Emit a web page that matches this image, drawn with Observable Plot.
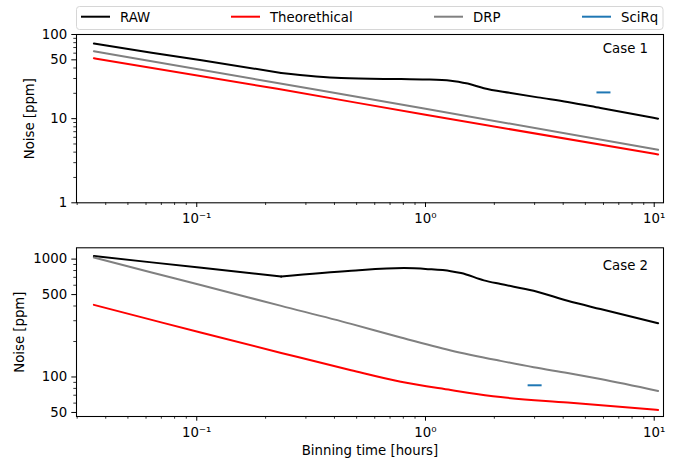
<!DOCTYPE html>
<html>
<head>
<meta charset="utf-8">
<script src="https://cdn.jsdelivr.net/npm/d3@7"></script>
<script src="https://cdn.jsdelivr.net/npm/@observablehq/plot@0.6"></script>
<style>
  html, body { margin: 0; padding: 0; background: #fff; }
  #fig { position: relative; width: 686px; height: 461px; overflow: hidden; font-family: "DejaVu Sans", sans-serif; }
  #fig svg { position: absolute; left: 0; }
</style>
</head>
<body>
<div id="fig"></div>
<script>
// ---------- legend ----------
const seriesNames = ["RAW", "Theorethical", "DRP", "SciRq"];
const seriesColors = ["#000000", "#ff0000", "#808080", "#1f77b4"];

// ---------- Case 1 ----------
const c1RawX  = [0.0355, 0.0635, 0.105, 0.234, 0.428, 0.782, 1.0, 1.29, 1.53, 1.8, 2.36, 3.1, 4.18, 5.82, 10.4];
const c1RawY  = [78, 60.6, 49.5, 34.9, 30.4, 29.5, 29.2, 28.3, 26.1, 23.0, 20.2, 17.9, 15.8, 13.4, 10.0];
const c1TheoX = [0.0355, 0.225, 1.0, 10.4];
const c1TheoY = [52.2, 22.6, 11.1, 3.76];
const c1DrpX  = [0.0355, 0.225, 1.0, 10.4];
const c1DrpY  = [63.3, 26.5, 13.1, 4.27];
const c1SciX  = [6.0];
const c1SciY  = [20.5];

// ---------- Case 2 ----------
const c2RawX  = [0.0355, 0.0635, 0.105, 0.234, 0.473, 0.806, 1.025, 1.29, 1.43, 1.8, 2.13, 2.97, 4.18, 5.82, 10.4];
const c2RawY  = [1060, 938, 844, 711, 796, 839, 822, 790, 762, 660, 614, 538, 443, 377, 286];
const c2TheoX = [0.0355, 0.0635, 0.105, 0.234, 0.473, 0.78, 1.29, 1.53, 2.13, 4.18, 10.4];
const c2TheoY = [409, 305, 237, 160, 114, 91, 77.5, 73.6, 67.5, 60.6, 52.5];
const c2DrpX  = [0.0355, 0.0635, 0.105, 0.234, 0.473, 0.78, 1.29, 2.13, 2.97, 4.18, 5.82, 10.4];
const c2DrpY  = [1030, 770, 599, 401, 282, 216, 168, 137, 121, 108, 96, 76];
const c2SciX  = [3.0];
const c2SciY  = [85];

// ---------- axes ----------
const xDomain = [0.0298, 10.98];
const xMajorTicks = [0.1, 1, 10];
const xTickLabels = ["10\u207B\u00B9", "10\u2070", "10\u00B9"];
const c1YDomain = [1, 100];
const c1YTicks = [1, 10, 50, 100];
const c2YDomain = [46.2, 1247];
const c2YTicks = [50, 100, 500, 1000];
const rawKnee = 0.234; // RAW has a visible corner here

function minorTicks(domain, major) {
  const out = [];
  for (let e = -3; e <= 4; e++) for (let m = 1; m <= 9; m++) {
    const v = +(m * Math.pow(10, e)).toPrecision(6);
    if (v >= domain[0] && v <= domain[1] && !major.some(t => Math.abs(t - v) / v < 1e-9)) out.push(v);
  }
  return out;
}

const rows = (xs, ys) => xs.map((x, i) => ({x, y: ys[i]}));
const dash = { draw(ctx) { ctx.moveTo(-7, 0); ctx.lineTo(7, 0); } };
const FS = 13.3;

function panel(o) {
  const xMinor = minorTicks(xDomain, xMajorTicks);
  const yMinor = minorTicks(o.yDomain, o.yTicks);
  const rawA = o.raw.filter(d => d.x <= rawKnee);
  const rawB = o.raw.filter(d => d.x >= rawKnee);
  return Plot.plot({
    width: 686,
    height: o.height,
    marginLeft: 76,
    marginRight: 23,
    marginTop: o.marginTop,
    marginBottom: o.marginBottom,
    style: {fontFamily: "DejaVu Sans, sans-serif", fontSize: FS + "px", background: "transparent", overflow: "visible", color: "#000"},
    x: {type: "log", domain: xDomain},
    y: {type: "log", domain: o.yDomain},
    marks: [
      Plot.line(rawA, {x: "x", y: "y", stroke: seriesColors[0], strokeWidth: 2, curve: "linear", strokeLinejoin: "round"}),
      Plot.line(rawB, {x: "x", y: "y", stroke: seriesColors[0], strokeWidth: 2, curve: "monotone-x"}),
      Plot.line(o.theo, {x: "x", y: "y", stroke: seriesColors[1], strokeWidth: 2, curve: "monotone-x"}),
      Plot.line(o.drp, {x: "x", y: "y", stroke: seriesColors[2], strokeWidth: 2, curve: "monotone-x"}),
      Plot.dot(o.sci, {x: "x", y: "y", symbol: dash, stroke: seriesColors[3], strokeWidth: 2, fill: "none"}),
      Plot.axisX({ticks: xMajorTicks, tickFormat: d => xTickLabels[xMajorTicks.indexOf(d)], tickSize: 4.7, tickPadding: 6.5, label: null, strokeWidth: 1}),
      Plot.axisX({ticks: xMinor, tickFormat: () => "", tickSize: 2.7, label: null, strokeWidth: 0.8}),
      Plot.axisY({ticks: o.yTicks, tickFormat: d => String(d), tickSize: 4.7, tickPadding: 4.7, label: null, strokeWidth: 1}),
      Plot.axisY({ticks: yMinor, tickFormat: () => "", tickSize: 2.7, label: null, strokeWidth: 0.8}),
      Plot.text([o.caseLabel], {text: d => d, frameAnchor: "top-right", dx: -15.5, dy: o.caseDy, textAnchor: "end", lineAnchor: "middle"}),
      Plot.text(["Noise [ppm]"], {text: d => d, frameAnchor: "left", dx: o.yLabelDx, rotate: -90, textAnchor: "middle", lineAnchor: "middle"}),
      ...(o.xLabel ? [Plot.text([o.xLabel], {text: d => d, frameAnchor: "bottom", dy: 34.5, lineAnchor: "middle"})] : []),
      Plot.frame({stroke: "#000", strokeWidth: 1.07})
    ]
  });
}

const fig = document.getElementById("fig");

const p1 = panel({
  height: 232, marginTop: 34, marginBottom: 29.7,
  yDomain: c1YDomain, yTicks: c1YTicks,
  raw: rows(c1RawX, c1RawY), theo: rows(c1TheoX, c1TheoY), drp: rows(c1DrpX, c1DrpY), sci: rows(c1SciX, c1SciY),
  caseLabel: "Case 1", caseDy: 14.5, yLabelDx: -47
});
p1.style.top = "0px";
fig.appendChild(p1);

const p2 = panel({
  height: 229, marginTop: 15.3, marginBottom: 45,
  yDomain: c2YDomain, yTicks: c2YTicks,
  raw: rows(c2RawX, c2RawY), theo: rows(c2TheoX, c2TheoY), drp: rows(c2DrpX, c2DrpY), sci: rows(c2SciX, c2SciY),
  caseLabel: "Case 2", caseDy: 18.3, yLabelDx: -57, xLabel: "Binning time [hours]"
});
p2.style.top = "232px";
fig.appendChild(p2);

// legend (matplotlib-style, expanded over the axes width)
const legendLineX = [81, 231, 434, 582];
const lg = d3.select(fig).append("svg")
  .attr("width", 686).attr("height", 34)
  .style("top", "0px")
  .style("font-family", "DejaVu Sans, sans-serif")
  .style("font-size", FS + "px");
lg.append("rect").attr("x", 76.5).attr("y", 6.5).attr("width", 586.5).attr("height", 23)
  .attr("rx", 3).attr("fill", "#fff").attr("fill-opacity", 0.8).attr("stroke", "#d6d6d6").attr("stroke-width", 1);
const items = lg.selectAll("g.item").data(seriesNames).join("g").attr("class", "item");
items.append("line")
  .attr("x1", (d, i) => legendLineX[i]).attr("x2", (d, i) => legendLineX[i] + 29)
  .attr("y1", 16.7).attr("y2", 16.7)
  .attr("stroke", (d, i) => seriesColors[i]).attr("stroke-width", 2);
items.append("text")
  .attr("x", (d, i) => legendLineX[i] + 39).attr("y", 21.7)
  .attr("fill", "#000")
  .text(d => d);
</script>
</body>
</html>
